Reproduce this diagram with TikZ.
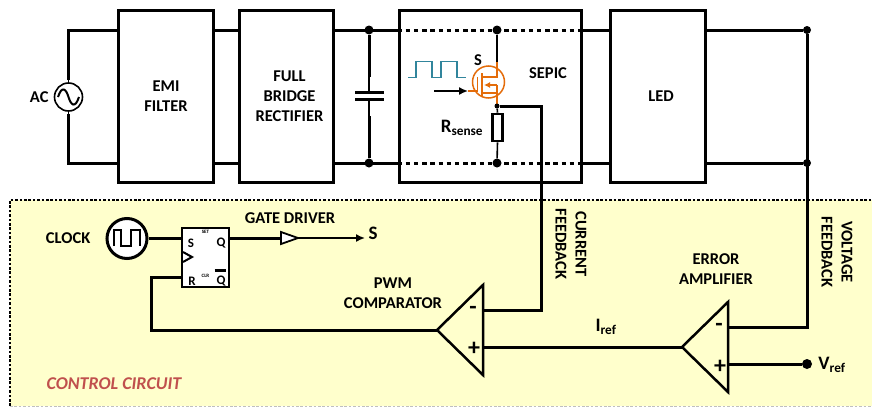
\documentclass[tikz,border=0pt]{standalone}
\usepackage{fontspec}
\setmainfont{Carlito}
\usetikzlibrary{positioning,calc,arrows.meta}
\definecolor{panelyellow}{HTML}{FFFFCC}
\definecolor{mosorange}{HTML}{E46C0A}
\definecolor{pulseteal}{HTML}{31859C}
\definecolor{ctrlred}{HTML}{C0504D}
\tikzset{
  wire/.style={line width=3pt, line join=miter},
  thinwire/.style={line width=1.6pt},
  railgap/.style={line width=3pt, dash pattern=on 4.5pt off 3.7pt},
  block/.style={draw, line width=3pt, fill=white, inner sep=0pt},
  lbl/.style={align=center, inner sep=0pt, font=\fontsize{16.5}{20}\selectfont\bfseries},
  sublbl/.style={inner sep=0pt, font=\fontsize{19}{20}\selectfont\bfseries},
  ffpin/.style={inner sep=0pt, font=\fontsize{13}{14}\selectfont\bfseries},
  fftiny/.style={inner sep=0pt, font=\fontsize{5}{5}\selectfont\bfseries},
  signlbl/.style={inner sep=0pt, font=\fontsize{24}{24}\selectfont\bfseries},
  dot/.style={circle, fill=black, inner sep=0pt, minimum size=#1},
  dot/.default=9pt
}
\begin{document}
\begin{tikzpicture}[x=1pt,y=-1pt,>=Latex]
  \useasboundingbox (0,0) rectangle (872,407);

  % control panel
  \fill[panelyellow] (10,200) rectangle (872,406);
  \draw[line width=1.5pt, dash pattern=on 2.6pt off 1.8pt] (10,406) -- (10,200) -- (872,200);
  \draw[line width=0.8pt, gray!50, dash pattern=on 2.6pt off 1.8pt] (10,406) -- (872,406);

  % rails
  \coordinate (railT) at (0,30);
  \coordinate (railB) at (0,163);

  % power stage blocks
  \node[block, minimum width=95pt, minimum height=172pt] (emi) at (165.5,96) {};
  \node[block, minimum width=94pt, minimum height=172pt] (rect) at (286,96) {};
  \node[block, minimum width=182pt, minimum height=172pt] (sepic) at (490,96) {};
  \node[block, minimum width=95pt, minimum height=172pt] (led) at (657.5,96) {};
  \node[lbl] (emilbl) at (166,96) {EMI\\FILTER};
  \node[lbl] (rectlbl) at (289.5,96) {FULL\\BRIDGE\\RECTIFIER};
  \node[lbl] (sepiclbl) at (548,73) {SEPIC};
  \node[lbl] (ledlbl) at (661,96) {LED};

  % ac source
  \node[circle, draw, line width=1.6pt, minimum size=28pt, inner sep=0pt] (ac) at (68.5,97) {};
  \node[lbl, left=5pt of ac] (aclbl) {AC};
  \draw[line width=2pt] (58,97) .. controls (62,85) and (66,89) .. (68.5,97)
    .. controls (71,105) and (75,109) .. (79,97);
  \draw[wire] (68.5,80) |- (emi.west |- railT);
  \draw[wire] (68.5,114) |- (emi.west |- railB);
  \draw[thinwire] (ac.north) -- (68.5,80);
  \draw[thinwire] (ac.south) -- (68.5,114);

  % links between blocks
  \foreach \rail in {railT,railB} {
    \draw[wire] (emi.east |- \rail) -- (rect.west |- \rail);
    \draw[wire] (rect.east |- \rail) -- (sepic.west |- \rail);
    \draw[railgap] (sepic.west |- \rail) -- (sepic.east |- \rail);
    \draw[wire] (sepic.east |- \rail) -- (led.west |- \rail);
  }

  % bus capacitor
  \node[dot] (capT) at (369,30) {};
  \node[dot] (capB) at (369,163) {};
  \coordinate (plateT) at (369,92.7);
  \coordinate (plateB) at (369,99.5);
  \draw[wire] (capT) -- (369,77);
  \draw[thinwire] (369,77) -- (plateT);
  \draw[wire] (capB) -- (369,116);
  \draw[thinwire] (369,116) -- (plateB);
  \draw[wire] (355,92.7) -- (383.5,92.7);
  \draw[wire] (355,99.5) -- (383.5,99.5);

  % sepic switch and sense resistor
  \node[dot] (drain) at (497,30) {};
  \node[dot] (source) at (497,163) {};
  \node[circle, draw=mosorange, line width=1.5pt, minimum size=32pt, inner sep=0pt] (mos) at (488.5,82) {};
  \begin{scope}[line width=1.5pt]
    \draw[mosorange] (497,62) -- (497,77) -- (482,77);
    \draw[mosorange] (497,106) -- (497,85);
    \draw[mosorange] (497,93) -- (482,93);
    \draw[mosorange] (482,73) -- (482,97);
    \draw[mosorange] (477.5,77) -- (477.5,91) -- (468,91);
    \draw[mosorange, -{Latex[length=6pt,width=6pt]}] (497,85) -- (484,85);
  \end{scope}
  \node[dot=5pt] (sense) at (497,106) {};
  \node[draw, line width=2.6pt, fill=white, minimum width=10pt, minimum height=27pt, inner sep=0pt] (rsense) at (497.5,127.5) {};
  \node[sublbl] (rsenselbl) at (462,128) {R\textsubscript{sense}};
  \draw[thinwire] (drain) -- (497,62);
  \draw[thinwire] (sense) -- (rsense.north);
  \draw[thinwire] (rsense.south) -- (source);
  \node[lbl] (slbl) at (478,60) {S};
  \coordinate (gatein) at (434,91);
  \draw[thinwire, -{Latex[length=9pt,width=8pt]}] (gatein) -- (468,91);
  \draw[pulseteal, line width=1.5pt] (408,77.3) -- (416,77.3) -- (416,61.7) -- (432,61.7) -- (432,77.3)
    -- (441,77.3) -- (441,61.7) -- (457,61.7) -- (457,77.3) -- (466,77.3);

  % output
  \node[dot=8pt] (outT) at (807,30) {};
  \node[dot=8pt] (outB) at (807,163) {};
  \draw[wire] (led.east |- railT) -- (outT);
  \draw[wire] (led.east |- railB) -- (outB);

  % clock and flip flop
  \node[circle, draw, fill=white, line width=3pt, minimum size=40pt, inner sep=0pt] (clock) at (127,238.5) {};
  \node[lbl, left=15pt of clock] (clocklbl) {CLOCK};
  \draw[line width=2.4pt] (114,246) -- (114,230) -- (121,230) -- (121,246) -- (131,246) -- (131,230) -- (140,230) -- (140,246);
  \node[draw, fill=white, line width=2.6pt, minimum width=47pt, minimum height=59pt, inner sep=0pt] (ff) at (205.5,257.5) {};
  \node[ffpin] (ffS) at (191,243) {S};
  \node[ffpin] (ffQ) at (221,243) {Q};
  \node[ffpin] (ffR) at (192,281) {R};
  \node[ffpin] (ffQn) at (221,281) {Q};
  \node[fftiny] (ffset) at (205.5,232) {SET};
  \node[fftiny] (ffclr) at (205.5,276) {CLR};
  \draw[wire] (214.5,270.5) -- (225.5,270.5);
  \draw[line width=2pt, fill=white] (183,252) -- (192,257) -- (183,262);
  \draw[wire] (clock) -- (ff.west |- clock);

  % gate driver
  \node[lbl] (driverlbl) at (290,218) {GATE DRIVER};
  \coordinate (bufIn) at (281,238);
  \coordinate (bufOut) at (298,238);
  \node[sublbl] (gatelbl) at (373,233) {S};
  \draw[wire] (ff.east |- bufIn) -- (bufIn);
  \draw[line width=1.8pt, fill=white] (281,232) -- (298,238) -- (281,244) -- cycle;
  \draw[thinwire, -{Latex[length=9pt,width=8pt]}] (bufOut) -- (365,238);

  % comparators
  \coordinate (cmpTip) at (437,330);
  \coordinate (cmpM) at (483,310);
  \coordinate (cmpP) at (483,347);
  \coordinate (errTip) at (682,347);
  \coordinate (errM) at (728,327);
  \coordinate (errP) at (728,364);
  \draw[wire, line width=2.5pt] (cmpTip) -- (483,285) -- (483,375) -- cycle;
  \draw[wire, line width=2.5pt] (errTip) -- (728,302) -- (728,392) -- cycle;
  \node[signlbl] (cmpMl) at (473,310) {-};
  \node[signlbl] (cmpPl) at (474,349) {+};
  \node[signlbl] (errMl) at (719,327) {-};
  \node[signlbl] (errPl) at (720,367) {+};
  \node[lbl] (pwmlbl) at (393,293) {PWM\hspace{12pt}\\COMPARATOR};
  \node[lbl] (errlbl) at (716,269) {ERROR\\AMPLIFIER};

  % feedback and reference wires
  \draw[wire] (sense) -- (541,106) |- (cmpM);
  \draw[wire] (outT) |- (errM);
  \draw[wire] (cmpP) -- (errTip);
  \node[sublbl] (ireflbl) at (606,327) {I\textsubscript{ref}};
  \node[dot=10pt] (vref) at (807,364) {};
  \node[sublbl] (vreflbl) at (832,365) {V\textsubscript{ref}};
  \draw[wire] (errP) -- (vref);
  \draw[wire] (ff.west |- 0,277) -- (151,277) |- (cmpTip);
  \node[lbl, rotate=-90] (curlbl) at (571,244) {CURRENT\\FEEDBACK};
  \node[lbl, rotate=-90] (vollbl) at (837,252) {VOLTAGE\\FEEDBACK};
  \node[lbl, text=ctrlred, font=\fontsize{18}{20}\selectfont\bfseries\itshape] (ctrllbl) at (114,384) {CONTROL CIRCUIT};
\end{tikzpicture}
\end{document}
